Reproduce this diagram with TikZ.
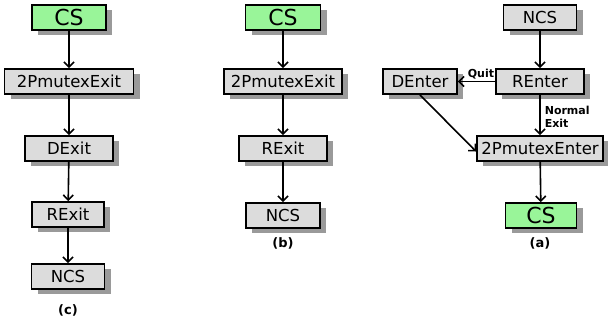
\documentclass[tikz,border=0pt]{standalone}
\usepackage{fontspec}
\setmainfont{DejaVu Sans}
\usetikzlibrary{arrows.meta,shadows}
\definecolor{boxgray}{HTML}{DCDCDC}
\definecolor{boxgreen}{HTML}{99F599}
\definecolor{shadowgray}{HTML}{9A9A9A}
\tikzset{
  box/.style={draw, line width=1.8pt, fill=boxgray, minimum height=25pt, inner sep=0pt,
    font=\fontsize{16.5}{18}\selectfont,
    drop shadow={shadow xshift=6pt, shadow yshift=-5pt, fill=shadowgray, opacity=1}},
  csbox/.style={box, fill=boxgreen, font=\fontsize{22}{24}\selectfont},
  arr/.style={line width=1.6pt, -{Straight Barb[length=5pt,width=10pt,line width=1.6pt]}},
  lbl/.style={font=\bfseries\fontsize{11}{12.5}\selectfont, inner sep=0pt},
  captext/.style={font=\bfseries\fontsize{13}{14}\selectfont, inner sep=0pt}
}
\begin{document}
\begin{tikzpicture}[x=1pt,y=-1pt]
\useasboundingbox (0,0) rectangle (608,327);
% panel (c)
\node[csbox, minimum width=74pt] (c1) at (69,17.5) {CS};
\node[box, minimum width=129pt] (c2) at (69,81.5) {2PmutexExit};
\node[box, minimum width=88pt] (c3) at (69,148.5) {DExit};
\node[box, minimum width=72pt] (c4) at (68,214.5) {RExit};
\node[box, minimum width=73pt] (c5) at (68,276.5) {NCS};
\node[captext] (ccap) at (68,310) {(c)};
\draw[arr] (c1) -- (c2);
\draw[arr] (c2) -- (c3);
\draw[arr] (c3) -- (c4);
\draw[arr] (c4) -- (c5);
% panel (b)
\node[csbox, minimum width=75pt] (b1) at (283,17.5) {CS};
\node[box, minimum width=118pt] (b2) at (283,81.5) {2PmutexExit};
\node[box, minimum width=88pt] (b3) at (283,148.5) {RExit};
\node[box, minimum width=74pt] (b4) at (283,215.5) {NCS};
\node[captext] (bcap) at (283,243) {(b)};
\draw[arr] (b1) -- (b2);
\draw[arr] (b2) -- (b3);
\draw[arr] (b3) -- (b4);
% panel (a)
\node[box, minimum width=73pt] (a1) at (540,17.5) {NCS};
\node[box, minimum width=88pt] (a2) at (540,81.5) {REnter};
\node[box, minimum width=74pt] (a3) at (420,81.5) {DEnter};
\node[box, minimum width=126pt] (a4) at (540,148.5) {2PmutexEnter};
\node[csbox, minimum width=71pt] (a5) at (541,215.5) {CS};
\node[captext] (acap) at (540,243) {(a)};
\draw[arr] (a1) -- (a2);
\draw[arr] (a2) -- node[lbl, above, pos=0.38, yshift=2pt] (quit) {Quit} (a3);
\draw[arr] (a2) -- node[lbl, right, align=left, xshift=4pt, yshift=-2pt] (ne) {Normal\\Exit} (a4);
\draw[arr] (a3.south) -- ([yshift=-3pt]a4.west);
\draw[arr] (a4) -- (a5);
\end{tikzpicture}
\end{document}
